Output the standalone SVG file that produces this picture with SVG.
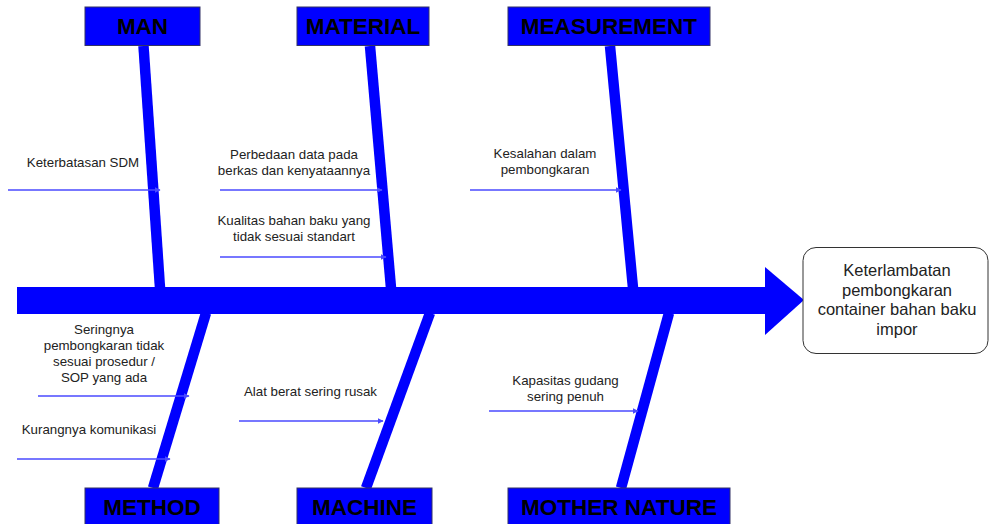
<svg xmlns="http://www.w3.org/2000/svg" width="990" height="524" viewBox="0 0 990 524">
<style>
.cat rect{fill:#0000ff;stroke:#333366;stroke-width:1}
.cat text{font-family:"Liberation Sans",Arial,sans-serif;font-weight:bold;font-size:22.5px;fill:#000;text-anchor:middle}
.bone{stroke:#0000ff;stroke-width:10.5;fill:none}
.cause{stroke:#4a4aff;stroke-width:1.3;fill:none;marker-end:url(#ah)}
.lbl{font-family:"Liberation Sans",Arial,sans-serif;font-size:13.3px;fill:#222;text-anchor:middle}
.res{font-family:"Liberation Sans",Arial,sans-serif;font-size:16.5px;fill:#222;text-anchor:middle}
</style>
<defs>
<marker id="ah" viewBox="0 0 10 10" refX="9" refY="5" markerWidth="6" markerHeight="6" markerUnits="userSpaceOnUse" orient="auto">
<path d="M0,0 L10,5 L0,10 z" fill="#4a4aff"/>
</marker>
</defs>
<rect width="990" height="524" fill="#ffffff"/>
<g id="connectors">
<rect x="17" y="287" width="749" height="27" fill="#0000ff"/>
<polygon points="765,267 804,300 765,335" fill="#0000ff"/>
<line class="bone" x1="143.5" y1="46" x2="160" y2="288"/>
<line class="bone" x1="370" y1="46" x2="391" y2="288"/>
<line class="bone" x1="610" y1="46" x2="633" y2="288"/>
<line class="bone" x1="206" y1="313" x2="153" y2="488"/>
<line class="bone" x1="430" y1="313" x2="366" y2="488"/>
<line class="bone" x1="669" y1="313" x2="621" y2="488"/>
<line class="cause" x1="8" y1="190" x2="160" y2="190"/>
<line class="cause" x1="220" y1="190" x2="382" y2="190"/>
<line class="cause" x1="220" y1="257" x2="386" y2="257"/>
<line class="cause" x1="470" y1="190" x2="621" y2="190"/>
<line class="cause" x1="38" y1="396" x2="189" y2="396"/>
<line class="cause" x1="17" y1="459" x2="170" y2="459"/>
<line class="cause" x1="239" y1="421" x2="383" y2="421"/>
<line class="cause" x1="489" y1="411" x2="638" y2="411"/>
</g>
<g id="man" class="cat"><rect x="85" y="7" width="115" height="38.5"/><text x="142.5" y="33.5">MAN</text></g>
<g id="material" class="cat"><rect x="297" y="7" width="132" height="38.5"/><text x="363" y="33.5">MATERIAL</text></g>
<g id="measurement" class="cat"><rect x="508" y="7" width="202" height="38.5"/><text x="609" y="33.5">MEASUREMENT</text></g>
<g id="method" class="cat"><rect x="85" y="488" width="134" height="40"/><text x="152" y="514.5">METHOD</text></g>
<g id="machine" class="cat"><rect x="297" y="488" width="135" height="40"/><text x="364.5" y="514.5">MACHINE</text></g>
<g id="mother-nature" class="cat"><rect x="508" y="488" width="222" height="40"/><text x="619" y="514.5">MOTHER NATURE</text></g>
<g id="result">
<rect x="803" y="247.5" width="185" height="106" rx="13" ry="13" fill="#ffffff" stroke="#333333" stroke-width="1"/>
<text class="res" x="897" y="276">Keterlambatan</text>
<text class="res" x="897" y="295.5">pembongkaran</text>
<text class="res" x="897" y="315">container bahan baku</text>
<text class="res" x="897" y="334.5">impor</text>
</g>
<g id="cause-man-1"><text class="lbl" x="83" y="166.5">Keterbatasan SDM</text></g>
<g id="cause-material-1"><text class="lbl" x="294" y="158.5">Perbedaan data pada</text><text class="lbl" x="294" y="174.5">berkas dan kenyataannya</text></g>
<g id="cause-material-2"><text class="lbl" x="294" y="225">Kualitas bahan baku yang</text><text class="lbl" x="294" y="241">tidak sesuai standart</text></g>
<g id="cause-measurement-1"><text class="lbl" x="545" y="158">Kesalahan dalam</text><text class="lbl" x="545" y="174">pembongkaran</text></g>
<g id="cause-method-1"><text class="lbl" x="104" y="334">Seringnya</text><text class="lbl" x="104" y="350">pembongkaran tidak</text><text class="lbl" x="104" y="366">sesuai prosedur /</text><text class="lbl" x="104" y="382">SOP yang ada</text></g>
<g id="cause-method-2"><text class="lbl" x="89" y="434">Kurangnya komunikasi</text></g>
<g id="cause-machine-1"><text class="lbl" x="310.5" y="396">Alat berat sering rusak</text></g>
<g id="cause-nature-1"><text class="lbl" x="565.5" y="385">Kapasitas gudang</text><text class="lbl" x="565.5" y="401">sering penuh</text></g>
</svg>
